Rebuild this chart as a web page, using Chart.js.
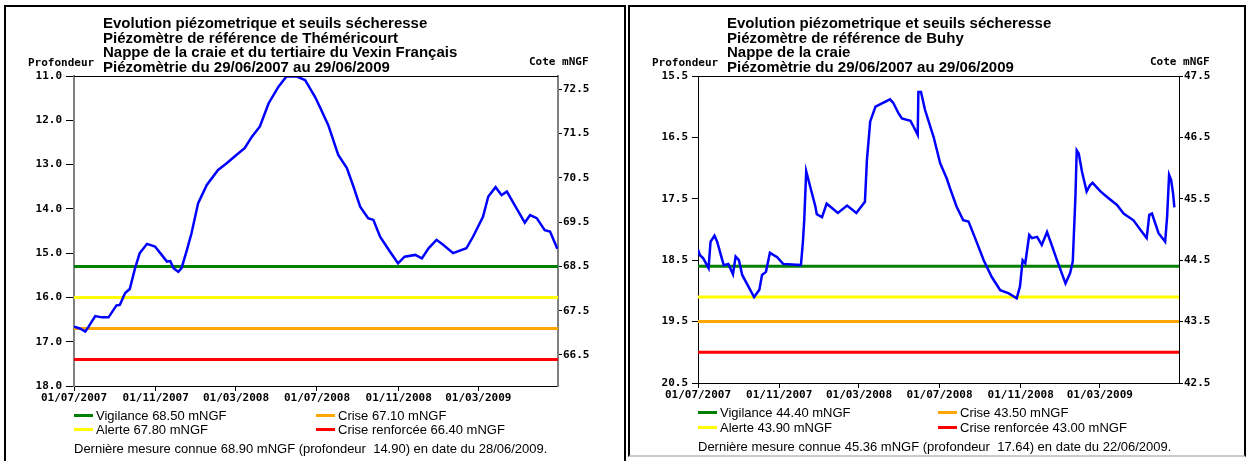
<!DOCTYPE html>
<html>
<head>
<meta charset="utf-8">
<script src="https://cdn.jsdelivr.net/npm/chart.js@4.4.1/dist/chart.umd.min.js"></script>
<style>
  body { margin: 0; background: #fff; width: 1248px; height: 461px; overflow: hidden; position: relative; }
  .panel { position: absolute; box-sizing: border-box; border: 2px solid #000; }
  canvas { position: absolute; top: 0; }
  .title { position: absolute; font: bold 15px 'Liberation Sans', Arial, sans-serif; line-height: 14.5px; color: #000; white-space: nowrap; }
  .axlab { position: absolute; font: bold 11px 'DejaVu Sans Mono', monospace; line-height: 12px; color: #000; white-space: nowrap; }
  .leg { position: absolute; font: 13px 'Liberation Sans', Arial, sans-serif; line-height: 15px; color: #000; white-space: nowrap; }
  .mk { position: absolute; height: 3px; width: 19px; }
</style>
</head>
<body>
<div class="panel" style="left:4px;top:5px;width:622px;height:470px;"></div>
<div class="panel" style="left:628px;top:5px;width:618px;height:452px;border-bottom-color:#ccc;"></div>

<canvas id="chartA" width="626" height="461" style="left:0px"></canvas>
<canvas id="chartB" width="622" height="461" style="left:626px"></canvas>

<div class="title" style="left:103px;top:16px;">Evolution piézometrique et seuils sécheresse<br>Piézomètre de référence de Théméricourt<br>Nappe de la craie et du tertiaire du Vexin Français<br>Piézomètrie du 29/06/2007 au 29/06/2009</div>
<div class="axlab" style="left:28px;top:57px;">Profondeur</div>
<div class="axlab" style="left:529px;top:56px;">Cote mNGF</div>

<div class="title" style="left:727px;top:16px;">Evolution piézometrique et seuils sécheresse<br>Piézomètre de référence de Buhy<br>Nappe de la craie<br>Piézomètrie du 29/06/2007 au 29/06/2009</div>
<div class="axlab" style="left:652px;top:57px;">Profondeur</div>
<div class="axlab" style="left:1150px;top:56px;">Cote mNGF</div>

<div id="legA"></div>
<div id="legB"></div>

<script>
// ── Axis ticks (days since 01/07/2007) ──
const xMaxDay = 729;
const xTickDays = [0, 123, 244, 366, 489, 609];
const xTickLabels = ['01/07/2007', '01/11/2007', '01/03/2008', '01/07/2008', '01/11/2008', '01/03/2009'];

// ── Théméricourt ──
const thmOffset = 83.80; // cote + profondeur
const thmDepthTicks = [11, 12, 13, 14, 15, 16, 17, 18];
const thmCoteTicks = [66.5, 67.5, 68.5, 69.5, 70.5, 71.5, 72.5];
const thmDays = [0, 9, 17, 22, 32, 42, 52, 64, 69, 77, 84, 92, 99, 110, 122, 130, 140, 145, 150, 157, 162, 170, 177, 187, 200, 217, 230, 245, 257, 268, 280, 293, 308, 320, 335, 348, 363, 370, 383, 398, 411, 421, 431, 443, 451, 461, 476, 488, 498, 514, 524, 534, 546, 556, 571, 591, 601, 616, 624, 635, 644, 652, 662, 679, 687, 697, 709, 717, 728];
const thmDepth = [16.66, 16.70, 16.77, 16.66, 16.42, 16.45, 16.45, 16.18, 16.17, 15.90, 15.81, 15.34, 15.00, 14.79, 14.85, 15.00, 15.19, 15.18, 15.34, 15.42, 15.34, 14.93, 14.55, 13.87, 13.46, 13.12, 12.97, 12.78, 12.63, 12.37, 12.14, 11.62, 11.24, 11.01, 11.01, 11.09, 11.47, 11.69, 12.11, 12.78, 13.08, 13.50, 13.95, 14.21, 14.25, 14.63, 14.97, 15.23, 15.08, 15.04, 15.12, 14.89, 14.70, 14.81, 15.00, 14.89, 14.63, 14.18, 13.72, 13.51, 13.69, 13.61, 13.87, 14.31, 14.14, 14.21, 14.48, 14.51, 14.90];
const thmSeuils = [68.50, 67.80, 67.10, 66.40];

// ── Buhy ──
const buhOffset = 63.00;
const buhDepthTicks = [15.5, 16.5, 17.5, 18.5, 19.5, 20.5];
const buhCoteTicks = [42.5, 43.5, 44.5, 45.5, 46.5, 47.5];
const buhDays = [0, 3, 8, 16, 19, 25, 29, 39, 46, 53, 57, 62, 67, 85, 93, 97, 103, 109, 120, 129, 156, 159, 161, 164, 170, 178, 180, 188, 195, 203, 212, 226, 240, 253, 256, 261, 269, 291, 296, 304, 309, 322, 327, 333, 334, 338, 344, 357, 367, 377, 382, 392, 402, 410, 420, 433, 445, 458, 471, 483, 488, 492, 496, 502, 506, 514, 521, 529, 536, 544, 557, 564, 568, 572, 574, 577, 582, 589, 594, 598, 610, 620, 635, 645, 660, 673, 680, 684, 688, 698, 708, 711, 714, 717, 720, 722];
const buhDepth = [18.33, 18.42, 18.47, 18.63, 18.20, 18.10, 18.20, 18.58, 18.56, 18.73, 18.44, 18.50, 18.74, 19.10, 18.98, 18.74, 18.69, 18.38, 18.45, 18.56, 18.58, 18.20, 17.85, 17.05, 17.30, 17.63, 17.75, 17.80, 17.58, 17.65, 17.73, 17.61, 17.73, 17.55, 16.87, 16.24, 16.00, 15.88, 15.94, 16.11, 16.19, 16.23, 16.33, 16.46, 15.76, 15.76, 16.05, 16.49, 16.92, 17.17, 17.33, 17.63, 17.85, 17.87, 18.14, 18.50, 18.77, 18.99, 19.04, 19.12, 18.93, 18.50, 18.55, 18.09, 18.14, 18.12, 18.25, 18.04, 18.25, 18.50, 18.88, 18.71, 18.52, 17.47, 16.71, 16.76, 17.06, 17.38, 17.28, 17.24, 17.38, 17.47, 17.60, 17.74, 17.85, 18.04, 18.14, 17.76, 17.74, 18.06, 18.20, 17.79, 17.11, 17.19, 17.41, 17.64];
const buhSeuils = [44.40, 43.90, 43.50, 43.00];

const seuilNames = ['Vigilance', 'Alerte', 'Crise', 'Crise renforcée'];
const seuilColors = ['#008000', '#ffff00', '#ffa500', '#ff0000'];

const monoFont = { family: "'DejaVu Sans Mono', monospace", size: 11, weight: 'bold' };

const topLine = {
  id: 'topLine',
  afterDraw(chart) {
    const a = chart.chartArea, c = chart.ctx;
    c.save();
    c.strokeStyle = '#000';
    c.lineWidth = 1;
    c.beginPath();
    c.moveTo(a.left, a.top + 0.5);
    c.lineTo(a.right, a.top + 0.5);
    c.stroke();
    c.restore();
  }
};

function makeChart(id, o) {
  const datasets = [{
    data: o.days.map((d, i) => ({ x: d, y: o.depth[i] })),
    borderColor: '#0000ff',
    borderWidth: 2.5,
    pointRadius: 0,
    tension: 0,
    order: 0
  }];
  o.seuils.forEach((v, i) => {
    datasets.push({
      data: [{ x: 0, y: o.offset - v }, { x: xMaxDay, y: o.offset - v }],
      borderColor: seuilColors[i],
      borderWidth: 3,
      pointRadius: 0,
      order: 1
    });
  });

  new Chart(document.getElementById(id), {
    type: 'line',
    data: { datasets },
    options: {
      responsive: false,
      animation: false,
      events: [],
      layout: { padding: { top: o.top, left: 0, right: 0, bottom: 0 } },
      plugins: { legend: { display: false }, tooltip: { enabled: false } },
      scales: {
        x: {
          type: 'linear', min: 0, max: xMaxDay,
          afterBuildTicks: s => { s.ticks = xTickDays.map(v => ({ value: v })); },
          afterFit: s => { s.height = o.h - o.bottom; },
          ticks: { callback: (v, i) => xTickLabels[i], color: '#000', font: monoFont, padding: 1, maxRotation: 0, autoSkip: false },
          grid: { drawOnChartArea: false, tickLength: 5, color: '#000' },
          border: { color: '#000', width: 1 }
        },
        y: {
          position: 'left', reverse: true, min: o.depthTicks[0], max: o.depthTicks[o.depthTicks.length - 1],
          afterBuildTicks: s => { s.ticks = o.depthTicks.map(v => ({ value: v })); },
          afterFit: s => { s.width = o.left; },
          ticks: { callback: v => v.toFixed(1), color: '#000', font: monoFont, padding: 4 },
          grid: { drawOnChartArea: false, tickLength: o.tickL, color: '#000' },
          border: { color: o.axisColor, width: o.axisWidth }
        },
        y2: {
          position: 'right',
          min: o.offset - o.depthTicks[o.depthTicks.length - 1], max: o.offset - o.depthTicks[0],
          afterBuildTicks: s => { s.ticks = o.coteTicks.map(v => ({ value: v })); },
          afterFit: s => { s.width = o.w - o.right; },
          ticks: { callback: v => v.toFixed(1), color: '#000', font: monoFont, padding: 1 },
          grid: { drawOnChartArea: false, tickLength: 4, color: '#000' },
          border: { color: o.axisColor, width: o.axisWidth }
        }
      }
    },
    plugins: [topLine]
  });
}

makeChart('chartA', {
  days: thmDays, depth: thmDepth, seuils: thmSeuils, offset: thmOffset,
  depthTicks: thmDepthTicks, coteTicks: thmCoteTicks,
  w: 626, h: 461, left: 74, right: 558, top: 76, bottom: 386,
  tickL: 8, axisColor: '#808080', axisWidth: 2
});
makeChart('chartB', {
  days: buhDays, depth: buhDepth, seuils: buhSeuils, offset: buhOffset,
  depthTicks: buhDepthTicks, coteTicks: buhCoteTicks,
  w: 622, h: 461, left: 72, right: 553, top: 76, bottom: 383,
  tickL: 6, axisColor: '#000', axisWidth: 1
});

// ── Legends ──
function legend(id, o) {
  let html = '';
  const order = [[0, 0, 0], [1, 0, 1], [2, 1, 0], [3, 1, 1]]; // seuil, col, row
  order.forEach(([k, col, row]) => {
    const x = o.cols[col], y = o.rows[row];
    html += '<span class="mk" style="left:' + x + 'px;top:' + (y - 1.5) + 'px;background:' + seuilColors[k] + ';"></span>';
    html += '<div class="leg" style="left:' + (x + 22) + 'px;top:' + (y - 7.5) + 'px;">' + seuilNames[k] + ' ' + o.seuils[k].toFixed(2) + ' mNGF</div>';
  });
  html += '<div class="leg" style="left:' + o.cols[0] + 'px;top:' + (o.foot - 7.5) + 'px;">' + o.footText + '</div>';
  document.getElementById(id).innerHTML = html;
}

legend('legA', {
  seuils: thmSeuils, cols: [74, 316], rows: [415, 429], foot: 448,
  footText: 'Dernière mesure connue 68.90 mNGF (profondeur&nbsp; 14.90) en date du 28/06/2009.'
});
legend('legB', {
  seuils: buhSeuils, cols: [698, 938], rows: [412, 427], foot: 446,
  footText: 'Dernière mesure connue 45.36 mNGF (profondeur&nbsp; 17.64) en date du 22/06/2009.'
});
</script>
</body>
</html>
